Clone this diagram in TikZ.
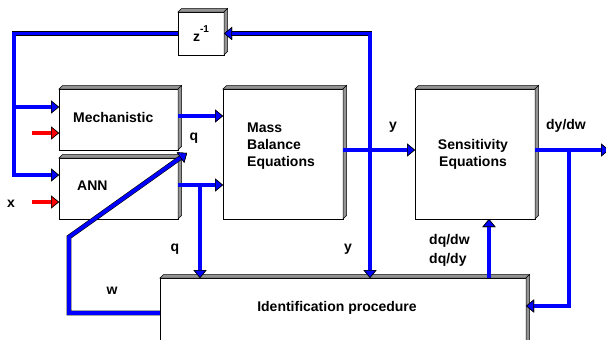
\documentclass[tikz,border=0pt]{standalone}
\usepackage{fontspec}
\setmainfont{Liberation Sans}
\usetikzlibrary{arrows.meta,calc}

% raised bevel on the top and right side of a box
\newcommand\bevel[1]{%
  \filldraw[bevelface] (#1.north west) -- ++(3.5,-3.5) -- ([shift={(3.5,-3.5)}]#1.north east) -- (#1.north east) -- cycle;
  \filldraw[bevelface] (#1.north east) -- ++(3.5,-3.5) -- ([shift={(3.5,-3.5)}]#1.south east) -- (#1.south east) -- cycle;}

\tikzset{
  box/.style={rectangle, draw=black, line width=0.8pt, fill=white, inner sep=0pt, outer sep=0pt, anchor=north west},
  bevelface/.style={fill=gray!85, draw=black, line width=0.5pt},
  lbl/.style={font=\fontsize{14}{17}\selectfont\bfseries, inner sep=0pt},
  wire/.style={draw=blue, line width=3.6pt, preaction={draw=black, line width=4.8pt}},
  rwire/.style={draw=red, line width=3.6pt, preaction={draw=black, line width=4.8pt}},
  redtip/.style={-{Triangle[length=8pt,width=13pt,color=black,fill=red,line width=0.6pt]}},
}

\begin{document}
\begin{tikzpicture}[x=1pt, y=-1pt,
  >={Triangle[length=8pt,width=13pt,color=black,fill=blue,line width=0.6pt]}]
\useasboundingbox (0,0) rectangle (606,340);
\clip (0,0) rectangle (606,340);

% blocks
\node[box, minimum width=46pt,  minimum height=43pt]  (zbox)  at (178,12)  {};
\node[box, minimum width=119pt, minimum height=61pt]  (mech)  at (59,89)   {};
\node[box, minimum width=119pt, minimum height=61pt]  (ann)   at (59,158)  {};
\node[box, minimum width=120pt, minimum height=130pt] (mass)  at (223,89)  {};
\node[box, minimum width=120pt, minimum height=130pt] (sens)  at (415,89)  {};
\node[box, minimum width=366pt, minimum height=90pt]  (ident) at (160,278) {};
\bevel{zbox}\bevel{mech}\bevel{ann}\bevel{mass}\bevel{sens}\bevel{ident}

% block texts
\node[lbl] (ztxt) at (zbox.center) {z\raisebox{8.5pt}{\fontsize{10}{10}\selectfont -1}};
\node[lbl, anchor=west] (mecht) at (73,117) {Mechanistic};
\node[lbl, anchor=west] (annt) at (77,186) {ANN};
\node[lbl, anchor=west, align=left] (masst) at (247,146) {Mass\\Balance\\Equations};
\node[lbl, align=center] (senst) at (473,154) {Sensitivity\\Equations};
\node[lbl] (identt) at (337,308) {Identification procedure};

% signal labels
\node[lbl] (qa) at (194,138) {q};
\node[lbl] (qb) at (175,249) {q};
\node[lbl] (wl) at (112,291) {w};
\node[lbl] (xl) at (11,204) {x};
\node[lbl] (ya) at (393,127) {y};
\node[lbl] (yb) at (348,249) {y};
\node[lbl] (dydw) at (566,126) {dy/dw};
\node[lbl, anchor=west, align=left, font=\fontsize{14}{19}\selectfont\bfseries] (dq) at (429,250) {dq/dw\\dq/dy};

% routing points
\coordinate (lft)    at (14,175);
\coordinate (mechin) at (59,107);
\coordinate (mechout) at (178,116);
\coordinate (annout) at (178,185);
\coordinate (qdrop)  at (200,185);
\coordinate (yj)     at (370,150);
\coordinate (dyj)    at (569,150);
\coordinate (wlow)   at (69,313);
\coordinate (wbend)  at (69,237);
\coordinate (qtip)   at (187,153);
\coordinate (dqx)    at (489,219);
\coordinate (back)   at (569,306);
\coordinate (out)    at (609,150);
\coordinate (xin1)   at (32,133);
\coordinate (xin2)   at (32,202);

% delayed output fed back to both models
\draw[wire,->] (zbox.west) -| (lft) -- (ann.west |- lft);
\draw[wire,->] ($(lft |- mechin)+(1.8,0)$) -- (mechin);

% measured inputs
\draw[rwire,redtip] (xin1) -- (mech.west |- xin1);
\draw[rwire,redtip] (xin2) -- (ann.west |- xin2);

% y goes to the delay and to the identification
\draw[wire,<->] (ident.north -| yj) |- (zbox.east);

% q into the mass balance
\draw[wire,->] (mech.east |- mechout) -- (mass.west |- mechout);
\draw[wire,->] (ann.east |- annout) -- (mass.west |- annout);
\draw[wire,->] ($(qdrop)+(0,1.8)$) -- (ident.north -| qdrop);

% y into the sensitivity equations
\draw[wire,->] (mass.east |- yj) -- (sens.west |- yj);

% sensitivities
\draw[wire,->] (sens.east |- yj) -- (out);
\draw[wire,->] ($(dyj)+(0,1.8)$) |- (ident.east |- back);
\draw[wire,->] (ident.north -| dqx) -- (sens.south -| dqx);

% weight update w
\draw[wire,->] (ident.west |- wlow) -- (wlow) -- (wbend) -- (qtip);
\end{tikzpicture}
\end{document}
